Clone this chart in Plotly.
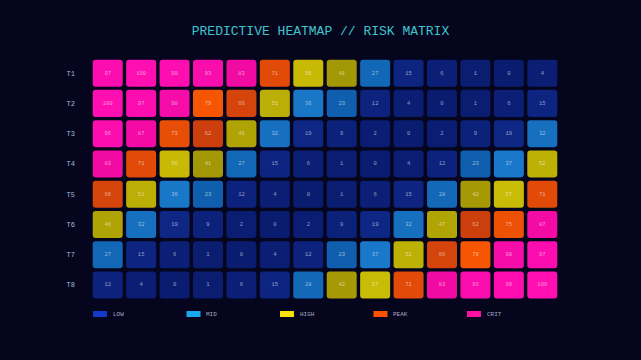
import plotly.graph_objects as go

rows = ["T1", "T2", "T3", "T4", "T5", "T6", "T7", "T8"]
cols = [f"C{i+1}" for i in range(14)]
values = [
    [97, 100, 99, 93, 83, 71, 56, 41, 27, 15, 6, 1, 0, 4],
    [100, 97, 90, 79, 66, 51, 36, 23, 12, 4, 0, 1, 6, 15],
    [95, 87, 73, 62, 46, 32, 19, 9, 2, 0, 2, 9, 19, 32],
    [83, 71, 56, 41, 27, 15, 6, 1, 0, 4, 12, 23, 37, 52],
    [66, 51, 36, 23, 12, 4, 0, 1, 6, 15, 28, 42, 57, 71],
    [46, 32, 19, 9, 2, 0, 2, 9, 19, 32, 47, 62, 75, 87],
    [27, 15, 6, 1, 0, 4, 12, 23, 37, 52, 66, 79, 90, 97],
    [12, 4, 0, 1, 6, 15, 28, 42, 57, 71, 83, 93, 99, 100],
]
band_names = ["LOW", "MID", "HIGH", "PEAK", "CRIT"]
band_edges = [0, 20, 40, 60, 80, 101]
legend_colors = ["#1438c8", "#18a8f0", "#f8e000", "#ff5000", "#ff10a0"]
# dark / bright cell tones per band
band_dark = [(10, 28, 112), (14, 90, 168), (160, 150, 5), (198, 60, 14), (238, 10, 160)]
band_bright = [(14, 38, 132), (26, 124, 205), (206, 192, 6), (246, 86, 2), (255, 14, 178)]

BG = "#05051e"


def cell_color(v):
    for b in range(5):
        lo, hi = band_edges[b], band_edges[b + 1] - 1
        if lo <= v <= hi:
            t = (v - lo) / max(hi - lo, 1)
            d, br = band_dark[b], band_bright[b]
            c = [round(d[k] + (br[k] - d[k]) * t) for k in range(3)]
            return f"rgb({c[0]},{c[1]},{c[2]})"
    return "rgb(0,0,0)"


L, R, T, B = 91, 82, 58, 60
W, H = 641 - L - R, 360 - T - B
nx, ny = len(cols), len(rows)
ux, uy = W / nx, H / ny          # px per data unit
cw, ch = 30 / ux, 27 / uy        # cell size in data units
rx, ry = 3 / ux, 3 / uy          # corner radius in data units


def rounded(xc, yc):
    x0, x1 = xc - cw / 2, xc + cw / 2
    y0, y1 = yc - ch / 2, yc + ch / 2
    return (f"M {x0+rx},{y0} L {x1-rx},{y0} Q {x1},{y0} {x1},{y0+ry} "
            f"L {x1},{y1-ry} Q {x1},{y1} {x1-rx},{y1} L {x0+rx},{y1} "
            f"Q {x0},{y1} {x0},{y1-ry} L {x0},{y0+ry} Q {x0},{y0} {x0+rx},{y0} Z")


shapes, annots = [], []
tx, ty, tt = [], [], []
for r, row in enumerate(values):
    for c, v in enumerate(row):
        shapes.append(dict(type="path", xref="x", yref="y", path=rounded(c, r),
                           fillcolor=cell_color(v), line=dict(width=0), layer="below"))
        tx.append(c)
        ty.append(r)
        tt.append(str(v))

fig = go.Figure()
fig.add_trace(go.Scatter(
    x=tx, y=ty, text=tt, mode="text",
    textfont=dict(family="Liberation Mono", size=5.5, color="rgba(255,255,255,0.55)"),
    hoverinfo="skip", showlegend=False, cliponaxis=False,
))

for i, (name, col) in enumerate(zip(band_names, legend_colors)):
    x0 = 93 + i * 93.5
    shapes.append(dict(type="rect", xref="paper", yref="paper",
                       x0=(x0 - L) / W, x1=(x0 + 14 - L) / W,
                       y0=(360 - B - 317) / H, y1=(360 - B - 311) / H,
                       fillcolor=col, line=dict(width=0)))
    annots.append(dict(xref="paper", yref="paper", x=(x0 + 17.5 - L) / W,
                       y=(360 - B - 314) / H, text=name, showarrow=False,
                       xanchor="left", yanchor="middle",
                       font=dict(family="Liberation Mono", size=6, color="#a8a8c0")))

fig.update_layout(
    width=641, height=360,
    margin=dict(l=L, r=R, t=T, b=B),
    paper_bgcolor=BG, plot_bgcolor=BG,
    title=dict(text="PREDICTIVE HEATMAP // RISK MATRIX", x=0.5, xanchor="center",
               y=1 - 30 / 360, yanchor="middle",
               font=dict(family="Liberation Mono", size=13, color="#40c4cc")),
    xaxis=dict(range=[-0.5, nx - 0.5], showticklabels=False, showgrid=False,
               zeroline=False, showline=False, ticks=""),
    yaxis=dict(range=[ny - 0.5, -0.5], tickmode="array", tickvals=list(range(ny)),
               ticktext=rows, showgrid=False, zeroline=False, showline=False,
               ticks="", ticklabelstandoff=15,
               tickfont=dict(family="Liberation Mono", size=7, color="#a8bcd8")),
    shapes=shapes, annotations=annots,
)

fig.write_html("out.html")
